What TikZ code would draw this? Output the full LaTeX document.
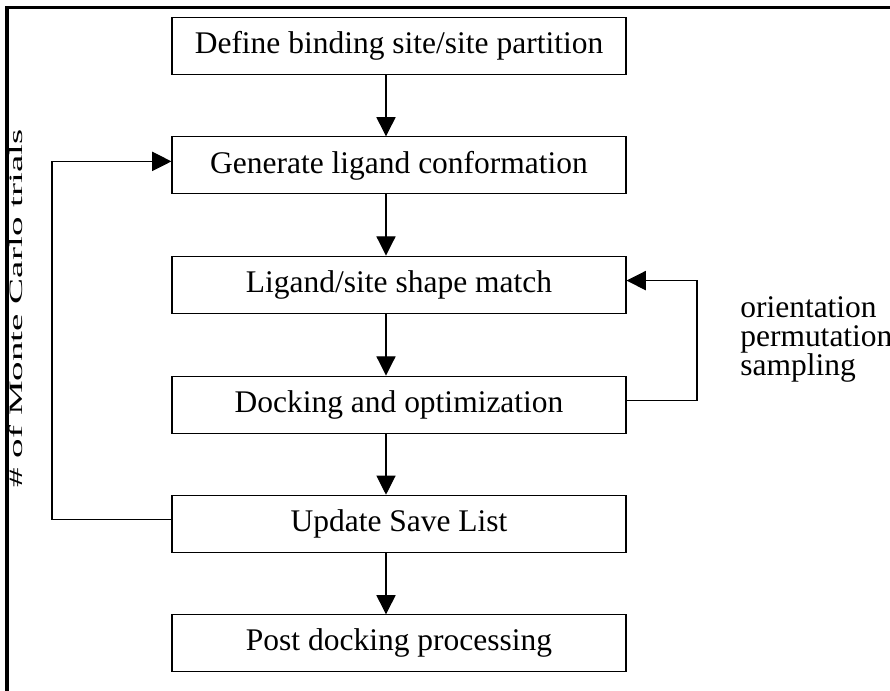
\documentclass[tikz,border=0pt]{standalone}
\usepackage{fontspec}
\setmainfont{Liberation Serif}
\usetikzlibrary{arrows.meta}

\begin{document}
\begin{tikzpicture}[
    stage/.style={draw, line width=0.8pt, minimum width=11.35cm, minimum height=1.425cm,
                  inner sep=0pt, font=\fontsize{22.4}{26}\selectfont},
    flow/.style={line width=0.8pt, -{Triangle[length=0.48cm, width=0.48cm]}}
  ]
  \useasboundingbox (0,0) rectangle (22.25,17.275);

  % Outer frame, runs off the right and bottom edges
  \draw[line width=2.2pt] (0.175,0) -- (0.175,17.09) -- (22.25,17.09);

  % Pipeline stages
  \node[stage] (define)   at (9.975,16.125) {Define binding site/site partition};
  \node[stage] (generate) at (9.975,13.14)  {Generate ligand conformation};
  \node[stage] (match)    at (9.975,10.16)  {Ligand/site shape match};
  \node[stage] (docking)  at (9.975,7.16)   {Docking and optimization};
  \node[stage] (update)   at (9.975,4.18)   {Update Save List};
  \node[stage] (post)     at (9.975,1.19)   {Post docking processing};

  % Straight arrows down the column
  \coordinate (col) at (9.65,0);
  \draw[flow] (define.south -| col)   -- (generate.north -| col);
  \draw[flow] (generate.south -| col) -- (match.north -| col);
  \draw[flow] (match.south -| col)    -- (docking.north -| col);
  \draw[flow] (docking.south -| col)  -- (update.north -| col);
  \draw[flow] (update.south -| col)   -- (post.north -| col);

  % Monte Carlo loop on the left
  \coordinate (mcx) at (1.3,0);
  \coordinate (mcout) at ([yshift=1mm]update.west);
  \coordinate (mcin)  at ([yshift=1mm]generate.west);
  \draw[flow] (mcout) -- (mcout -| mcx) |- (mcin);
  \node[rotate=90, xscale=1.24, yscale=0.6, inner sep=0pt, font=\fontsize{22.4}{26}\selectfont]
    (trials) at (0.39,9.56) {\# of Monte Carlo trials};

  % Orientation loop on the right
  \coordinate (orx) at (17.425,0);
  \coordinate (orout) at ([yshift=1mm]docking.east);
  \coordinate (orin)  at ([yshift=1mm]match.east);
  \draw[flow] (orout) -- (orout -| orx) |- (orin);
  \node[anchor=base west, align=left, inner sep=0pt, font=\fontsize{22.4}{20.97}\selectfont]
    (sampling) at (18.5,7.875) {orientation\\permutation\\sampling};
\end{tikzpicture}
\end{document}
